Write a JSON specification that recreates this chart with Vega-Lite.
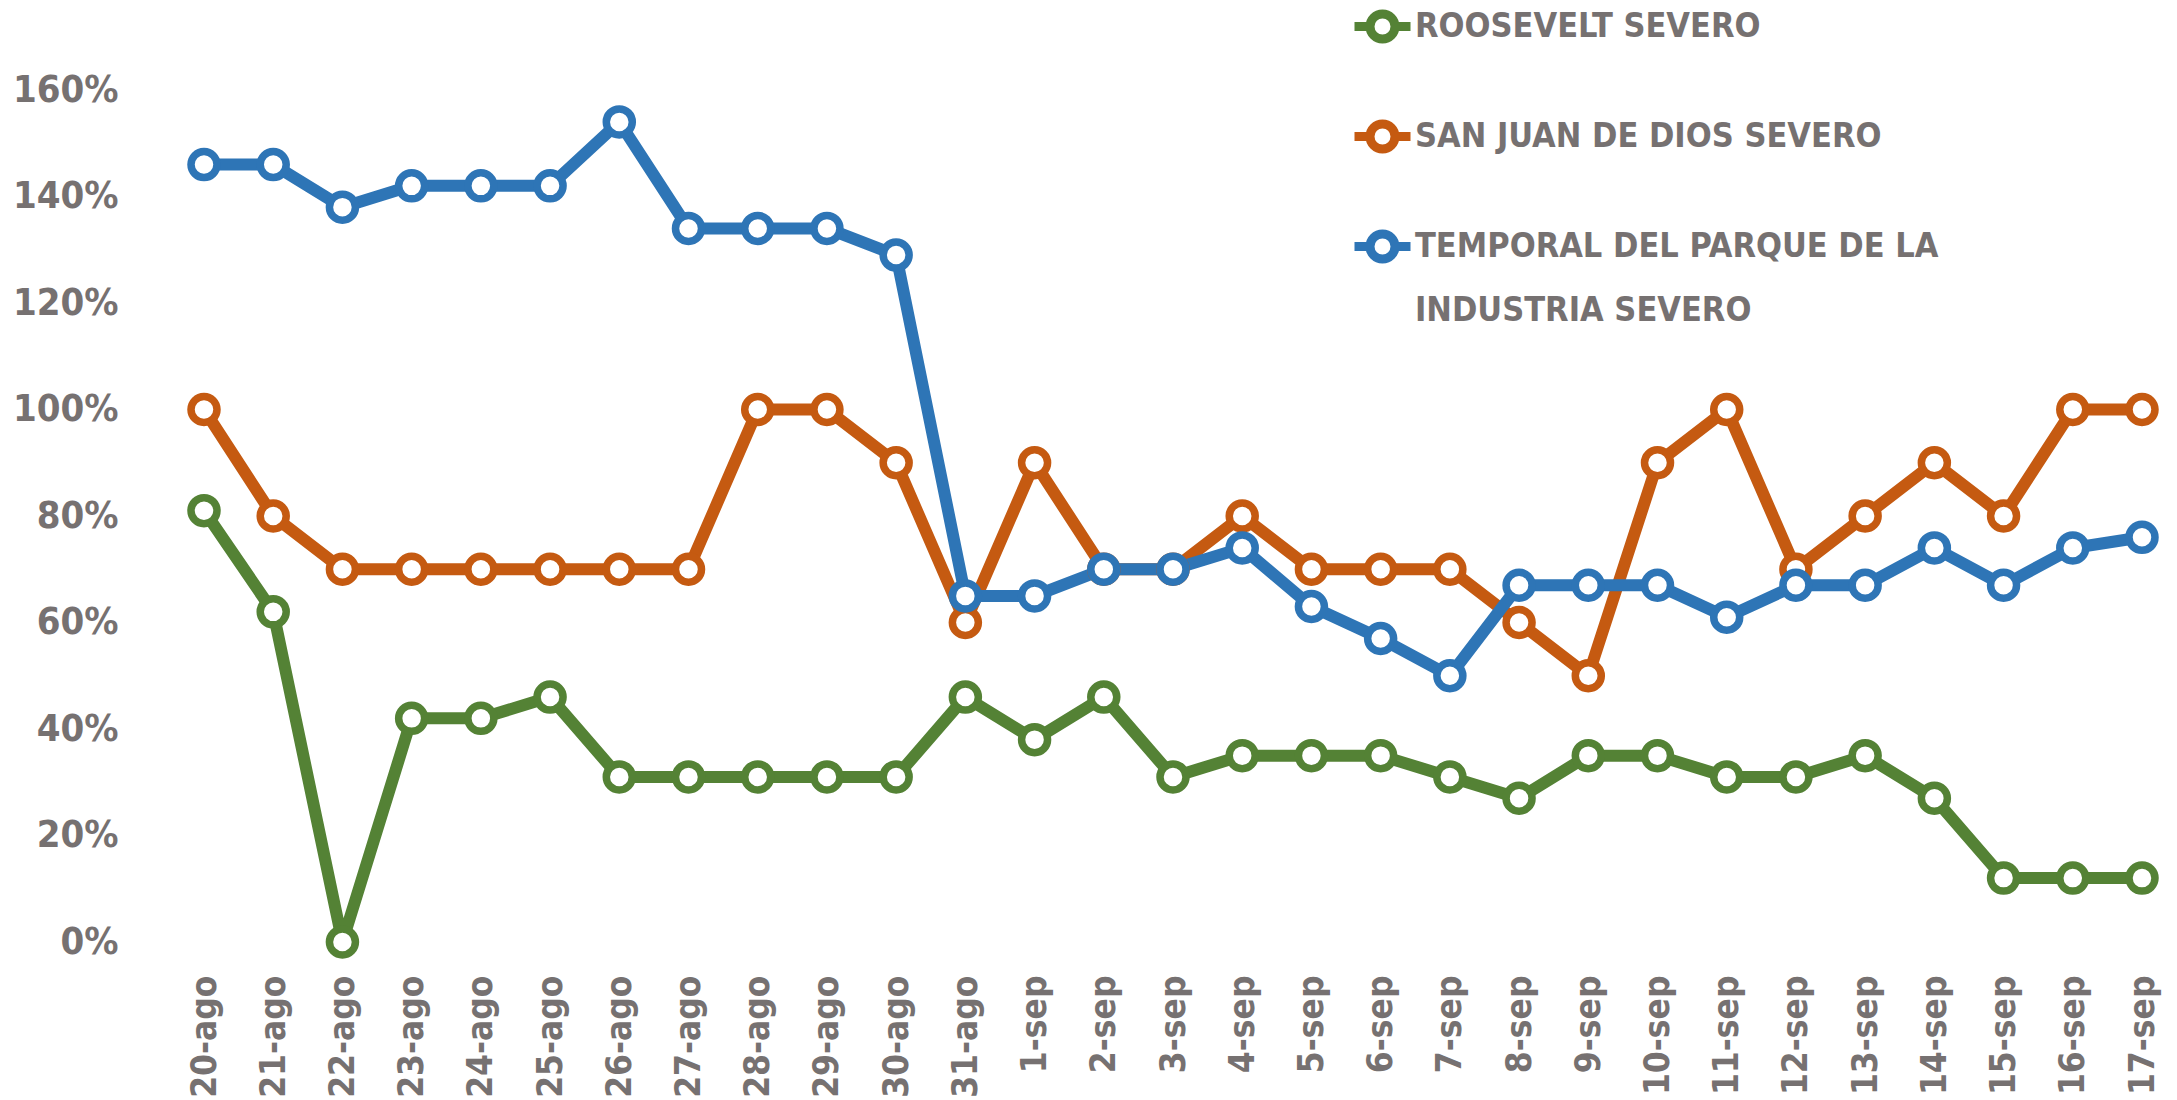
{
  "$schema": "https://vega.github.io/schema/vega-lite/v6.json",
  "autosize": {"type": "none"},
  "width": 1938,
  "height": 852,
  "padding": {"left": 204, "top": 90, "right": 35, "bottom": 158},
  "background": "white",
  "config": {"view": {"stroke": null}},
  "data": {"values": [
    {"fecha": "20-ago", "serie": "ROOSEVELT SEVERO", "valor": 0.81},
    {"fecha": "21-ago", "serie": "ROOSEVELT SEVERO", "valor": 0.62},
    {"fecha": "22-ago", "serie": "ROOSEVELT SEVERO", "valor": 0.0},
    {"fecha": "23-ago", "serie": "ROOSEVELT SEVERO", "valor": 0.42},
    {"fecha": "24-ago", "serie": "ROOSEVELT SEVERO", "valor": 0.42},
    {"fecha": "25-ago", "serie": "ROOSEVELT SEVERO", "valor": 0.46},
    {"fecha": "26-ago", "serie": "ROOSEVELT SEVERO", "valor": 0.31},
    {"fecha": "27-ago", "serie": "ROOSEVELT SEVERO", "valor": 0.31},
    {"fecha": "28-ago", "serie": "ROOSEVELT SEVERO", "valor": 0.31},
    {"fecha": "29-ago", "serie": "ROOSEVELT SEVERO", "valor": 0.31},
    {"fecha": "30-ago", "serie": "ROOSEVELT SEVERO", "valor": 0.31},
    {"fecha": "31-ago", "serie": "ROOSEVELT SEVERO", "valor": 0.46},
    {"fecha": "1-sep", "serie": "ROOSEVELT SEVERO", "valor": 0.38},
    {"fecha": "2-sep", "serie": "ROOSEVELT SEVERO", "valor": 0.46},
    {"fecha": "3-sep", "serie": "ROOSEVELT SEVERO", "valor": 0.31},
    {"fecha": "4-sep", "serie": "ROOSEVELT SEVERO", "valor": 0.35},
    {"fecha": "5-sep", "serie": "ROOSEVELT SEVERO", "valor": 0.35},
    {"fecha": "6-sep", "serie": "ROOSEVELT SEVERO", "valor": 0.35},
    {"fecha": "7-sep", "serie": "ROOSEVELT SEVERO", "valor": 0.31},
    {"fecha": "8-sep", "serie": "ROOSEVELT SEVERO", "valor": 0.27},
    {"fecha": "9-sep", "serie": "ROOSEVELT SEVERO", "valor": 0.35},
    {"fecha": "10-sep", "serie": "ROOSEVELT SEVERO", "valor": 0.35},
    {"fecha": "11-sep", "serie": "ROOSEVELT SEVERO", "valor": 0.31},
    {"fecha": "12-sep", "serie": "ROOSEVELT SEVERO", "valor": 0.31},
    {"fecha": "13-sep", "serie": "ROOSEVELT SEVERO", "valor": 0.35},
    {"fecha": "14-sep", "serie": "ROOSEVELT SEVERO", "valor": 0.27},
    {"fecha": "15-sep", "serie": "ROOSEVELT SEVERO", "valor": 0.12},
    {"fecha": "16-sep", "serie": "ROOSEVELT SEVERO", "valor": 0.12},
    {"fecha": "17-sep", "serie": "ROOSEVELT SEVERO", "valor": 0.12},
    {"fecha": "20-ago", "serie": "SAN JUAN DE DIOS SEVERO", "valor": 1.0},
    {"fecha": "21-ago", "serie": "SAN JUAN DE DIOS SEVERO", "valor": 0.8},
    {"fecha": "22-ago", "serie": "SAN JUAN DE DIOS SEVERO", "valor": 0.7},
    {"fecha": "23-ago", "serie": "SAN JUAN DE DIOS SEVERO", "valor": 0.7},
    {"fecha": "24-ago", "serie": "SAN JUAN DE DIOS SEVERO", "valor": 0.7},
    {"fecha": "25-ago", "serie": "SAN JUAN DE DIOS SEVERO", "valor": 0.7},
    {"fecha": "26-ago", "serie": "SAN JUAN DE DIOS SEVERO", "valor": 0.7},
    {"fecha": "27-ago", "serie": "SAN JUAN DE DIOS SEVERO", "valor": 0.7},
    {"fecha": "28-ago", "serie": "SAN JUAN DE DIOS SEVERO", "valor": 1.0},
    {"fecha": "29-ago", "serie": "SAN JUAN DE DIOS SEVERO", "valor": 1.0},
    {"fecha": "30-ago", "serie": "SAN JUAN DE DIOS SEVERO", "valor": 0.9},
    {"fecha": "31-ago", "serie": "SAN JUAN DE DIOS SEVERO", "valor": 0.6},
    {"fecha": "1-sep", "serie": "SAN JUAN DE DIOS SEVERO", "valor": 0.9},
    {"fecha": "2-sep", "serie": "SAN JUAN DE DIOS SEVERO", "valor": 0.7},
    {"fecha": "3-sep", "serie": "SAN JUAN DE DIOS SEVERO", "valor": 0.7},
    {"fecha": "4-sep", "serie": "SAN JUAN DE DIOS SEVERO", "valor": 0.8},
    {"fecha": "5-sep", "serie": "SAN JUAN DE DIOS SEVERO", "valor": 0.7},
    {"fecha": "6-sep", "serie": "SAN JUAN DE DIOS SEVERO", "valor": 0.7},
    {"fecha": "7-sep", "serie": "SAN JUAN DE DIOS SEVERO", "valor": 0.7},
    {"fecha": "8-sep", "serie": "SAN JUAN DE DIOS SEVERO", "valor": 0.6},
    {"fecha": "9-sep", "serie": "SAN JUAN DE DIOS SEVERO", "valor": 0.5},
    {"fecha": "10-sep", "serie": "SAN JUAN DE DIOS SEVERO", "valor": 0.9},
    {"fecha": "11-sep", "serie": "SAN JUAN DE DIOS SEVERO", "valor": 1.0},
    {"fecha": "12-sep", "serie": "SAN JUAN DE DIOS SEVERO", "valor": 0.7},
    {"fecha": "13-sep", "serie": "SAN JUAN DE DIOS SEVERO", "valor": 0.8},
    {"fecha": "14-sep", "serie": "SAN JUAN DE DIOS SEVERO", "valor": 0.9},
    {"fecha": "15-sep", "serie": "SAN JUAN DE DIOS SEVERO", "valor": 0.8},
    {"fecha": "16-sep", "serie": "SAN JUAN DE DIOS SEVERO", "valor": 1.0},
    {"fecha": "17-sep", "serie": "SAN JUAN DE DIOS SEVERO", "valor": 1.0},
    {"fecha": "20-ago", "serie": "TEMPORAL DEL PARQUE DE LA INDUSTRIA SEVERO", "valor": 1.46},
    {"fecha": "21-ago", "serie": "TEMPORAL DEL PARQUE DE LA INDUSTRIA SEVERO", "valor": 1.46},
    {"fecha": "22-ago", "serie": "TEMPORAL DEL PARQUE DE LA INDUSTRIA SEVERO", "valor": 1.38},
    {"fecha": "23-ago", "serie": "TEMPORAL DEL PARQUE DE LA INDUSTRIA SEVERO", "valor": 1.42},
    {"fecha": "24-ago", "serie": "TEMPORAL DEL PARQUE DE LA INDUSTRIA SEVERO", "valor": 1.42},
    {"fecha": "25-ago", "serie": "TEMPORAL DEL PARQUE DE LA INDUSTRIA SEVERO", "valor": 1.42},
    {"fecha": "26-ago", "serie": "TEMPORAL DEL PARQUE DE LA INDUSTRIA SEVERO", "valor": 1.54},
    {"fecha": "27-ago", "serie": "TEMPORAL DEL PARQUE DE LA INDUSTRIA SEVERO", "valor": 1.34},
    {"fecha": "28-ago", "serie": "TEMPORAL DEL PARQUE DE LA INDUSTRIA SEVERO", "valor": 1.34},
    {"fecha": "29-ago", "serie": "TEMPORAL DEL PARQUE DE LA INDUSTRIA SEVERO", "valor": 1.34},
    {"fecha": "30-ago", "serie": "TEMPORAL DEL PARQUE DE LA INDUSTRIA SEVERO", "valor": 1.29},
    {"fecha": "31-ago", "serie": "TEMPORAL DEL PARQUE DE LA INDUSTRIA SEVERO", "valor": 0.65},
    {"fecha": "1-sep", "serie": "TEMPORAL DEL PARQUE DE LA INDUSTRIA SEVERO", "valor": 0.65},
    {"fecha": "2-sep", "serie": "TEMPORAL DEL PARQUE DE LA INDUSTRIA SEVERO", "valor": 0.7},
    {"fecha": "3-sep", "serie": "TEMPORAL DEL PARQUE DE LA INDUSTRIA SEVERO", "valor": 0.7},
    {"fecha": "4-sep", "serie": "TEMPORAL DEL PARQUE DE LA INDUSTRIA SEVERO", "valor": 0.74},
    {"fecha": "5-sep", "serie": "TEMPORAL DEL PARQUE DE LA INDUSTRIA SEVERO", "valor": 0.63},
    {"fecha": "6-sep", "serie": "TEMPORAL DEL PARQUE DE LA INDUSTRIA SEVERO", "valor": 0.57},
    {"fecha": "7-sep", "serie": "TEMPORAL DEL PARQUE DE LA INDUSTRIA SEVERO", "valor": 0.5},
    {"fecha": "8-sep", "serie": "TEMPORAL DEL PARQUE DE LA INDUSTRIA SEVERO", "valor": 0.67},
    {"fecha": "9-sep", "serie": "TEMPORAL DEL PARQUE DE LA INDUSTRIA SEVERO", "valor": 0.67},
    {"fecha": "10-sep", "serie": "TEMPORAL DEL PARQUE DE LA INDUSTRIA SEVERO", "valor": 0.67},
    {"fecha": "11-sep", "serie": "TEMPORAL DEL PARQUE DE LA INDUSTRIA SEVERO", "valor": 0.61},
    {"fecha": "12-sep", "serie": "TEMPORAL DEL PARQUE DE LA INDUSTRIA SEVERO", "valor": 0.67},
    {"fecha": "13-sep", "serie": "TEMPORAL DEL PARQUE DE LA INDUSTRIA SEVERO", "valor": 0.67},
    {"fecha": "14-sep", "serie": "TEMPORAL DEL PARQUE DE LA INDUSTRIA SEVERO", "valor": 0.74},
    {"fecha": "15-sep", "serie": "TEMPORAL DEL PARQUE DE LA INDUSTRIA SEVERO", "valor": 0.67},
    {"fecha": "16-sep", "serie": "TEMPORAL DEL PARQUE DE LA INDUSTRIA SEVERO", "valor": 0.74},
    {"fecha": "17-sep", "serie": "TEMPORAL DEL PARQUE DE LA INDUSTRIA SEVERO", "valor": 0.76}
  ]},
  "encoding": {
    "x": {
      "field": "fecha", "type": "ordinal", "sort": null,
      "scale": {"type": "point", "padding": 0},
      "axis": {
        "title": null, "domain": false, "ticks": false, "tickSize": 0, "grid": false,
        "labelAngle": -90, "labelPadding": 33,
        "labelFont": "DejaVu Sans Condensed",
        "labelFontWeight": "bold", "labelFontSize": 35, "labelColor": "#767171"
      }
    },
    "y": {
      "field": "valor", "type": "quantitative",
      "scale": {"domain": [0, 1.6], "nice": false},
      "axis": {
        "title": null, "domain": false, "ticks": false, "tickSize": 0, "grid": false,
        "values": [0, 0.2, 0.4, 0.6, 0.8, 1.0, 1.2, 1.4, 1.6], "format": ".0%",
        "labelPadding": 86,
        "labelFont": "DejaVu Sans Condensed",
        "labelFontWeight": "bold", "labelFontSize": 38, "labelColor": "#767171"
      }
    },
    "stroke": {
      "field": "serie", "type": "nominal",
      "scale": {
        "domain": ["ROOSEVELT SEVERO", "SAN JUAN DE DIOS SEVERO", "TEMPORAL DEL PARQUE DE LA INDUSTRIA SEVERO"],
        "range": ["#548235", "#C55A11", "#2E75B6"]
      },
      "legend": {
        "title": null, "orient": "none", "legendX": 1146, "legendY": -96,
        "direction": "vertical",
        "symbolType": "M-1,0L-0.446,0M0.446,0L1,0M0.446,0A0.446,0.446,0,1,1,-0.446,0A0.446,0.446,0,1,1,0.446,0Z",
        "symbolSize": 3136, "symbolStrokeWidth": 9, "symbolFillColor": "white", "symbolOpacity": 1,
        "labelFont": "DejaVu Sans Condensed",
        "labelFontWeight": "bold", "labelFontSize": 34, "labelColor": "#767171",
        "labelLimit": 900, "labelOffset": 0, "rowPadding": 47,
        "labelExpr": "datum.label == 'TEMPORAL DEL PARQUE DE LA INDUSTRIA SEVERO' ? ['TEMPORAL DEL PARQUE DE LA', 'INDUSTRIA SEVERO'] : datum.label",
        "encode": {"labels": {"update": {"lineHeight": {"value": 64}}}}
      }
    }
  },
  "layer": [
    {"mark": {"type": "line", "strokeWidth": 12, "strokeJoin": "round", "strokeCap": "round"}},
    {"mark": {"type": "point", "shape": "circle", "filled": true, "fill": "white", "size": 676, "strokeWidth": 7.5, "opacity": 1}}
  ]
}
